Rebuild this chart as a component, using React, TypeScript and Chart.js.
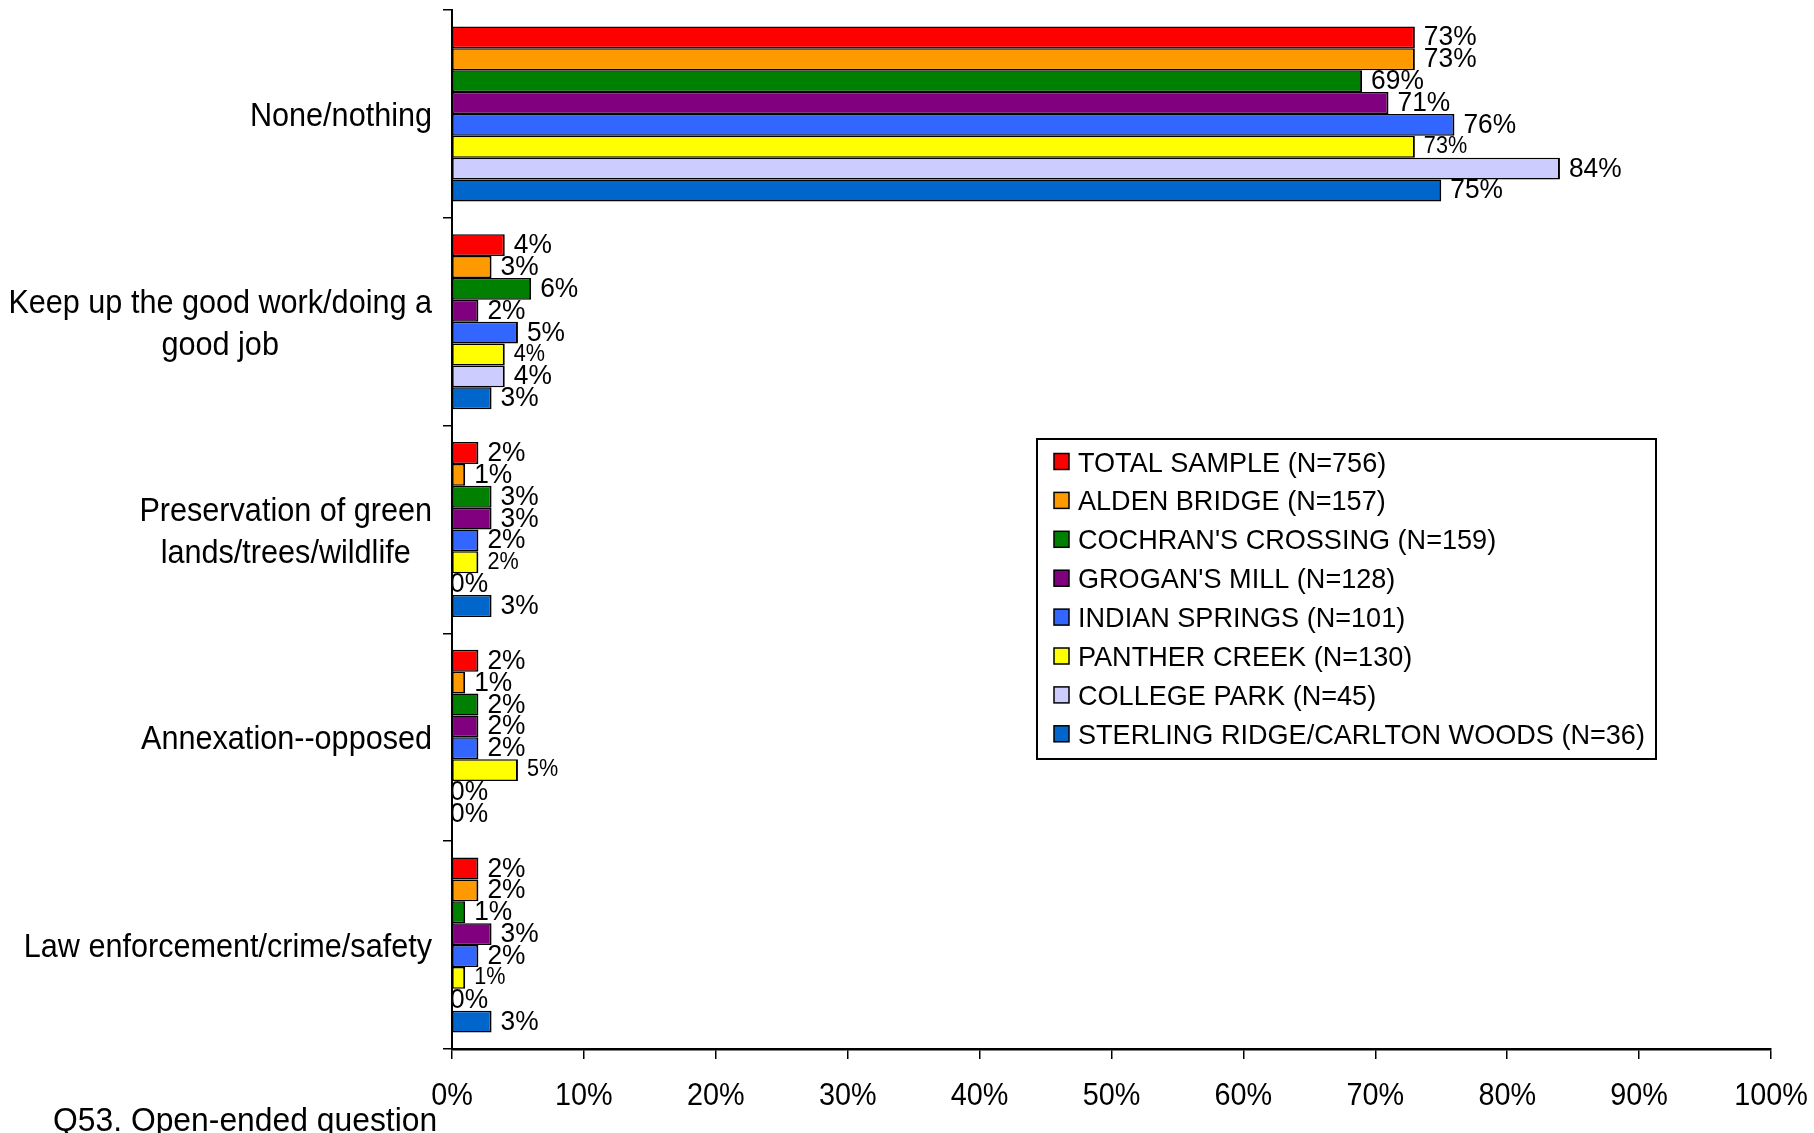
import React, { useEffect, useRef } from 'react';
import { Chart, registerables } from 'chart.js';

Chart.register(...registerables);

// ---------- data ----------
const categories: string[][] = [
  ['None/nothing'],
  ['Keep up the good work/doing a', 'good job'],
  ['Preservation of green', 'lands/trees/wildlife'],
  ['Annexation--opposed'],
  ['Law enforcement/crime/safety'],
];

const seriesNames = [
  'TOTAL SAMPLE (N=756)',
  'ALDEN BRIDGE (N=157)',
  "COCHRAN'S CROSSING (N=159)",
  "GROGAN'S MILL (N=128)",
  'INDIAN SPRINGS (N=101)',
  'PANTHER CREEK (N=130)',
  'COLLEGE PARK (N=45)',
  'STERLING RIDGE/CARLTON WOODS (N=36)',
];

const seriesColors = ['#FF0000', '#FF9900', '#008000', '#800080', '#3366FF', '#FFFF00', '#CCCCFF', '#0066CC'];

const totalSample = [73, 4, 2, 2, 2];
const aldenBridge = [73, 3, 1, 1, 2];
const cochransCrossing = [69, 6, 3, 2, 1];
const grogansMill = [71, 2, 3, 2, 3];
const indianSprings = [76, 5, 2, 2, 2];
const pantherCreek = [73, 4, 2, 5, 1];
const collegePark = [84, 4, 0, 0, 0];
const sterlingRidge = [75, 3, 3, 0, 3];

const seriesValues = [totalSample, aldenBridge, cochransCrossing, grogansMill, indianSprings, pantherCreek, collegePark, sterlingRidge];

const xMin = 0;
const xMax = 100;
const xStep = 10;
const footnote = 'Q53. Open-ended question';

// ---------- style ----------
const FONT = '"Liberation Sans", Arial, Helvetica, sans-serif';
const labelFontSizes = [28, 28, 28, 28, 28, 23, 28, 28];

function drawText(ctx: CanvasRenderingContext2D, text: string, x: number, y: number, size: number, align: CanvasTextAlign, sx: number) {
  ctx.save();
  ctx.translate(x, y);
  ctx.scale(sx, 1);
  ctx.font = `${size}px ${FONT}`;
  ctx.textAlign = align;
  ctx.textBaseline = 'alphabetic';
  ctx.fillStyle = '#000';
  ctx.fillText(text, 0, 0);
  ctx.restore();
}

function textWidth(ctx: CanvasRenderingContext2D, text: string, size: number, sx: number) {
  ctx.save();
  ctx.font = `${size}px ${FONT}`;
  const w = ctx.measureText(text).width * sx;
  ctx.restore();
  return w;
}

const categoryLabelPlugin = {
  id: 'categoryLabels',
  afterDraw(chart: any) {
    const ctx = chart.ctx;
    const yScale = chart.scales.y;
    const size = 34;
    const sx = 0.9;
    const rightEdge = 432;
    const lineH = 42;
    (chart.data.labels as string[][]).forEach((lab, i) => {
      const lines = Array.isArray(lab) ? lab : [lab];
      const w = Math.max(...lines.map((l) => textWidth(ctx, l, size, sx)));
      const cx = rightEdge - w / 2;
      const cy = yScale.getPixelForValue(i);
      lines.forEach((l, j) => {
        const ly = cy + (j - (lines.length - 1) / 2) * lineH + 12;
        drawText(ctx, l, cx, ly, size, 'center', sx);
      });
    });
  },
};

const xTickLabelPlugin = {
  id: 'xTickLabels',
  afterDraw(chart: any) {
    const ctx = chart.ctx;
    const xScale = chart.scales.x;
    xScale.ticks.forEach((t: any) => {
      const px = xScale.getPixelForValue(t.value);
      drawText(ctx, `${t.value}%`, px, 1105, 32, 'center', 0.9);
    });
  },
};

const dataLabelPlugin = {
  id: 'dataLabels',
  afterDatasetsDraw(chart: any) {
    const ctx = chart.ctx;
    chart.data.datasets.forEach((ds: any, di: number) => {
      const meta = chart.getDatasetMeta(di);
      const size = labelFontSizes[di];
      meta.data.forEach((el: any, i: number) => {
        const v = ds.data[i];
        const off = v === 0 ? -2 : 9;
        drawText(ctx, `${v}%`, el.x + off, el.y - 2 + size * 0.358, size, 'left', 0.94);
      });
    });
  },
};

const legendPlugin = {
  id: 'boxLegend',
  afterDraw(chart: any) {
    const ctx = chart.ctx;
    ctx.save();
    const bx = 1037, by = 439, bw = 619, bh = 320;
    ctx.fillStyle = '#fff';
    ctx.fillRect(bx, by, bw, bh);
    ctx.strokeStyle = '#000';
    ctx.lineWidth = 2;
    ctx.strokeRect(bx, by, bw, bh);
    chart.data.datasets.forEach((ds: any, i: number) => {
      const cy = 461.5 + i * 38.9;
      ctx.fillStyle = ds.backgroundColor;
      ctx.fillRect(1054, cy - 8, 15, 16);
      ctx.lineWidth = 1.5;
      ctx.strokeStyle = '#000';
      ctx.strokeRect(1054, cy - 8, 15, 16);
      drawText(ctx, ds.label, 1078, cy + 10, 28, 'left', 0.967);
    });
    ctx.restore();
  },
};

const footnotePlugin = {
  id: 'footnote',
  afterDraw(chart: any) {
    drawText(chart.ctx, footnote, 53, 1131, 33, 'left', 0.965);
  },
};

export default function App() {
  const canvasRef = useRef<HTMLCanvasElement | null>(null);

  useEffect(() => {
    if (!canvasRef.current) return;
    const chart = new Chart(canvasRef.current, {
      type: 'bar',
      data: {
        labels: categories as any,
        datasets: seriesNames.map((name, i) => ({
          label: name,
          data: seriesValues[i],
          backgroundColor: seriesColors[i],
          borderColor: '#000',
          borderWidth: { top: 1.5, bottom: 1.5, left: 1, right: 2 },
          borderSkipped: false,
          categoryPercentage: 0.842,
          barPercentage: 1.0,
        })),
      },
      options: {
        indexAxis: 'y',
        responsive: false,
        animation: false,
        devicePixelRatio: 1,
        layout: { padding: { top: 10, right: 43, left: 0, bottom: 0 } },
        plugins: {
          legend: { display: false },
          tooltip: { enabled: false },
        },
        scales: {
          x: {
            type: 'linear',
            min: xMin,
            max: xMax,
            afterFit(scale: any) {
              scale.height = 84;
              scale.paddingLeft = 0;
              scale.paddingRight = 0;
            },
            ticks: {
              stepSize: xStep,
              display: false,
            },
            grid: {
              drawOnChartArea: false,
              drawTicks: true,
              tickLength: 10,
              color: '#000',
              lineWidth: 1.5,
            },
            border: { display: true, color: '#000', width: 2.5 },
          },
          y: {
            type: 'category',
            afterFit(scale: any) {
              scale.width = 452;
              scale.paddingTop = 0;
              scale.paddingBottom = 0;
            },
            ticks: { display: false },
            grid: {
              drawOnChartArea: false,
              drawTicks: true,
              tickLength: 9,
              color: '#000',
              lineWidth: 1.5,
            },
            border: { display: true, color: '#000', width: 2 },
          },
        },
      },
      plugins: [dataLabelPlugin, categoryLabelPlugin, xTickLabelPlugin, legendPlugin, footnotePlugin],
    } as any);
    return () => chart.destroy();
  }, []);

  return (
    <div style={{ position: 'fixed', left: 0, top: 0, width: 1814, height: 1133, background: '#fff' }}>
      <canvas ref={canvasRef} width={1814} height={1133} style={{ display: 'block', width: 1814, height: 1133 }} />
    </div>
  );
}
